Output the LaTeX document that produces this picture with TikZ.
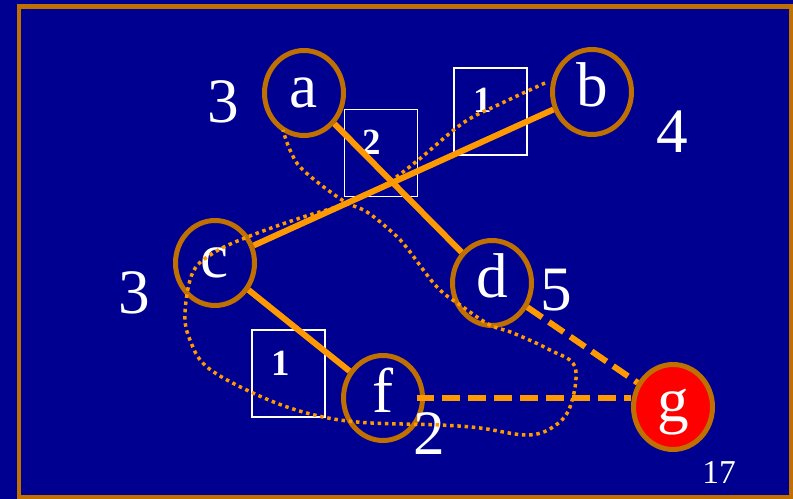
\documentclass[tikz,border=0pt]{standalone}
\usepackage{fontspec}
\setmainfont{Liberation Serif}
\usetikzlibrary{shapes.geometric}
\definecolor{slideblue}{RGB}{0,0,144}
\definecolor{ringbrown}{RGB}{192,112,0}
\definecolor{edgeorange}{RGB}{255,153,0}

\begin{document}
\begin{tikzpicture}[x=0.02cm, y=-0.02cm,
  vtx/.style={ellipse, draw=ringbrown, line width=0.1cm, minimum width=1.58cm,
    minimum height=1.7cm, inner sep=0pt, text=white,
    font=\fontsize{36}{40}\selectfont, text height=0.7cm, text depth=0.1cm},
  wt/.style={text=white, font=\fontsize{36}{40}\selectfont, inner sep=0pt},
  wbox/.style={draw=white, line width=0.03cm, minimum width=1.46cm,
    minimum height=1.74cm, inner sep=0pt},
  boxnum/.style={text=white, font=\fontsize{21}{24}\selectfont\bfseries, inner sep=0pt},
  tree/.style={draw=edgeorange, line width=0.12cm},
  cand/.style={draw=edgeorange, line width=0.12cm, dash pattern=on 0.36cm off 0.16cm},
  tour/.style={draw=edgeorange, line width=0.07cm, dash pattern=on 0.07cm off 0.075cm}]

  \fill[slideblue] (0,0) rectangle (793,499);
  \useasboundingbox (0,0) rectangle (793,499);
  \draw[ringbrown, line width=0.09cm] (19,6.5) rectangle (791,497.5);

  \node[vtx] (a) at (304,93) {a};
  \node[vtx] (b) at (592,92) {b};
  \node[vtx] (c) at (215,263) {c};
  \node[vtx] (d) at (492,283) {d};
  \node[vtx] (f) at (383,398) {f};
  \node[vtx, fill=red] (g) at (673,407) {g};

  \node[wt] (wa) at (223,102) {3};
  \node[wt] (wb) at (672,132) {4};
  \node[wt] (wc) at (134,293) {3};
  \node[wt] (wd) at (556,290) {5};
  \node[wt] (wf) at (429,434) {2};
  \node[text=white, font=\fontsize{19}{22}\selectfont, inner sep=0pt] (pg) at (719,472) {17};

  \node[wbox] (box2) at (381,153) {};
  \node[wbox] (box1) at (490.5,111.5) {};
  \node[wbox] (box3) at (288.5,373.5) {};
  \node[boxnum] at ([shift={(-9,-11)}]box2.center) {2};
  \node[boxnum] at ([shift={(-8,-11)}]box1.center) {1};
  \node[boxnum] at ([shift={(-8,-10)}]box3.center) {1};

  \draw[tree] (a) -- (d);
  \draw[tree] (b) -- (c);
  \draw[tree] (c) -- (f);
  \draw[cand] (d) -- (g);
  \draw[cand, shorten <=-0.17cm] (f.east) -- (f -| g.west);

  \draw[tour] plot[smooth, tension=0.6] coordinates {
    (545,83) (500,104) (463,123) (417,161) (380,188) (342,205) (300,218)
    (250,236) (215,252) (193,272) (185,313) (190,340) (207,367) (253,393)
    (303,412) (357,422) (440,425) (480,428) (527,435) (553,427) (570,407)
    (575,367) (550,350) (513,333) (490,325) (463,307) (437,287) (407,248)
    (393,233) (367,212) (342,200) (303,170) (290,150) (283,130)};
\end{tikzpicture}
\end{document}
